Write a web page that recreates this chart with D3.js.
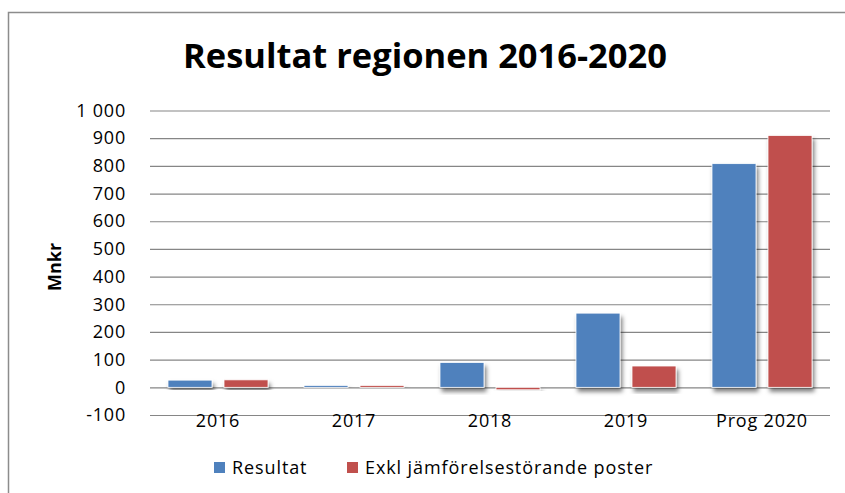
<!DOCTYPE html>
<html>
<head>
<meta charset="utf-8">
<script src="https://cdn.jsdelivr.net/npm/d3@7"></script>
<style>
  body { margin: 0; background: #fff; }
  svg { display: block; font-family: "Open Sans", sans-serif; }
</style>
</head>
<body>
<div id="chart"></div>
<script>
const categories = ['2016', '2017', '2018', '2019', 'Prog 2020'];
const seriesNames = ['Resultat', 'Exkl jämförelsestörande poster'];
const resultat = [26, 7, 90, 268, 808];
const exkl = [27, 7, -9, 77, 910];
const yTicks = [-100, 0, 100, 200, 300, 400, 500, 600, 700, 800, 900, 1000];
const colors = ['#4F81BD', '#C0504D'];

let size = {width: 845, height: 493};
let plot = {left: 150, right: 830, top: 110.5, bottom: 415};

let svg = d3.select('#chart').append('svg')
  .attr('width', size.width)
  .attr('height', size.height);

// drop shadow like the office charts
let defs = svg.append('defs');
defs.append('filter').attr('id', 'shadow')
  .attr('x', '-20%').attr('y', '-20%').attr('width', '150%').attr('height', '150%')
  .append('feDropShadow')
  .attr('dx', 2).attr('dy', 4).attr('stdDeviation', 2)
  .attr('flood-color', '#000').attr('flood-opacity', 0.5);

// frame (only top and left visible in the crop)
svg.append('path')
  .attr('d', 'M8.5,' + size.height + 'V12.5H' + size.width)
  .attr('fill', 'none')
  .attr('stroke', '#8c8c8c')
  .attr('stroke-width', 1.5);

let y = d3.scaleLinear().domain([-100, 1000]).range([plot.bottom, plot.top]);
let x0 = d3.scaleBand().domain(categories).range([plot.left, plot.right]).padding(0);
let x1 = d3.scaleBand().domain(seriesNames).range([0, x0.bandwidth()])
  .paddingInner(0.214).paddingOuter(0.321);

// gridlines + tick labels, "1 000" and plain hyphen for negatives
let fmt = d => (d < 0 ? '-' : '') + d3.format(',')(Math.abs(d)).replace(',', ' ');
let yAxis = d3.axisLeft(y)
  .tickValues(yTicks)
  .tickSize(-(plot.right - plot.left))
  .tickPadding(24)
  .tickFormat(fmt);

let ga = svg.append('g')
  .attr('transform', 'translate(' + plot.left + ',0)')
  .call(yAxis);
ga.select('.domain').remove();
ga.selectAll('.tick line').attr('stroke', '#868686').attr('stroke-width', 1.2);
ga.selectAll('.tick text')
  .attr('fill', '#000')
  .style('font-size', '18px')
  .style('letter-spacing', '0.8px')
  .style('font-family', '"Open Sans", sans-serif');

// bars
let data = categories.map((c, i) => ({cat: c, vals: [resultat[i], exkl[i]]}));
let groups = svg.append('g').selectAll('g')
  .data(data)
  .enter()
  .append('g')
  .attr('transform', d => 'translate(' + x0(d.cat) + ',0)');

groups.selectAll('rect')
  .data(d => d.vals.map((v, j) => ({name: seriesNames[j], v: v, j: j})))
  .enter()
  .append('rect')
  .attr('x', d => x1(d.name))
  .attr('width', x1.bandwidth())
  .attr('y', d => y(Math.max(0, d.v)))
  .attr('height', d => Math.abs(y(d.v) - y(0)))
  .attr('fill', d => colors[d.j])
  .attr('stroke', '#fff')
  .attr('stroke-width', 0.8)
  .attr('filter', 'url(#shadow)');

// category labels
svg.append('g').selectAll('text')
  .data(categories)
  .enter()
  .append('text')
  .attr('x', d => x0(d) + x0.bandwidth() / 2)
  .attr('y', 427)
  .attr('text-anchor', 'middle')
  .style('font-size', '18px')
  .style('letter-spacing', '0.8px')
  .text(d => d);

// y title
svg.append('text')
  .attr('transform', 'translate(61,267) rotate(-90)')
  .attr('text-anchor', 'middle')
  .style('font-size', '18px')
  .style('font-weight', 'bold')
  .text('Mnkr');

// title
let title = svg.append('text')
  .attr('x', 425)
  .attr('y', 68)
  .attr('text-anchor', 'middle')
  .style('font-size', '36px')
  .style('font-weight', 'bold')
  .text('Resultat regionen 2016-2020');
let tw = title.node().getComputedTextLength();
title.style('font-size', (36 * 484 / tw) + 'px');

// legend
let legendX = [214, 347];
let lg = svg.append('g').selectAll('g')
  .data(seriesNames)
  .enter()
  .append('g')
  .attr('transform', (d, i) => 'translate(' + legendX[i] + ',462)');
lg.append('rect')
  .attr('width', 11).attr('height', 11)
  .attr('fill', (d, i) => colors[i]);
lg.append('text')
  .attr('x', 18)
  .attr('y', 12)
  .style('font-size', '18px')
  .style('letter-spacing', '0.9px')
  .text(d => d);
</script>
</body>
</html>
